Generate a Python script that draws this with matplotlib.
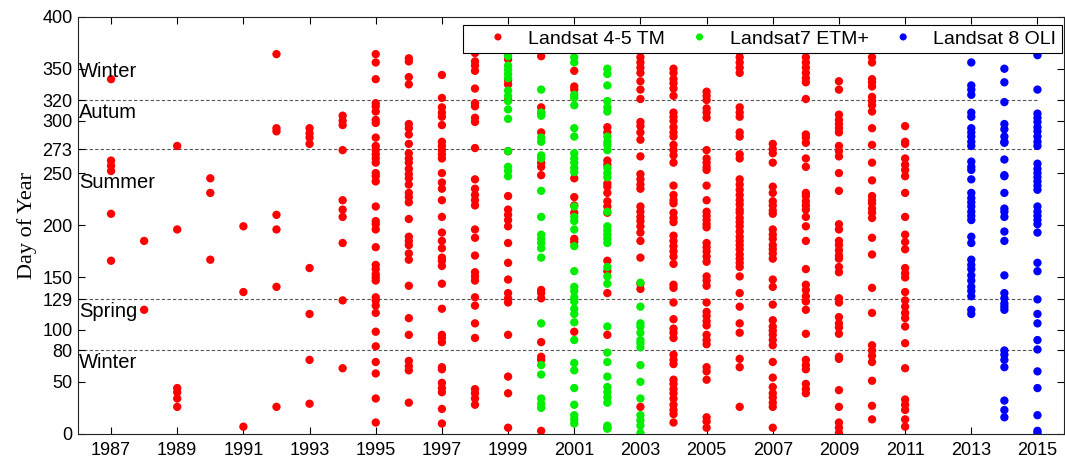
import numpy as np
import matplotlib
matplotlib.use("Agg")
import matplotlib.pyplot as plt

# day-of-year of each scene, per sensor and year
tm_doy = {
    1987: [340, 262, 257, 252, 211, 166],
    1988: [185, 119],
    1989: [276, 196, 44, 40, 34, 26],
    1990: [245, 231, 167],
    1991: [199, 136, 7],
    1992: [364, 293, 290, 210, 196, 141, 26],
    1993: [293, 288, 284, 278, 159, 115, 71, 29],
    1994: [305, 300, 296, 272, 224, 215, 208, 183, 128, 63],
    1995: [364, 356, 340, 317, 314, 309, 301, 298, 284, 276, 272, 268, 264, 260,
           250, 247, 242, 218, 204, 201, 196, 179, 162, 158, 153, 150, 147, 131,
           128, 123, 116, 98, 84, 69, 58, 34, 11],
    1996: [360, 357, 342, 335, 297, 293, 287, 278, 269, 264, 260, 254, 249, 245,
           239, 231, 227, 222, 206, 189, 185, 181, 173, 167, 142, 111, 95, 70, 65,
           61, 30],
    1997: [344, 322, 313, 308, 304, 296, 280, 276, 272, 268, 264, 250, 241, 235,
           224, 208, 193, 185, 178, 169, 166, 161, 144, 120, 95, 92, 88, 64, 62,
           49, 44, 40, 24, 10],
    1998: [372, 365, 357, 353, 348, 331, 317, 314, 303, 299, 274, 244, 235, 229,
           224, 219, 196, 188, 171, 155, 151, 147, 131, 123, 106, 92, 43, 39, 34, 28],
    1999: [366, 359, 339, 335, 320, 271, 228, 215, 210, 205, 199, 183, 164, 148,
           135, 130, 126, 95, 55, 39, 6],
    2000: [362, 313, 308, 289, 260, 256, 248, 138, 135, 130, 88, 74, 71, 3],
    2001: [370, 348, 333, 330, 245, 227, 219, 212, 187, 184, 98],
    2002: [294, 289, 262, 258, 240, 237, 231, 223, 218, 212, 166, 156, 135, 95, 6],
    2003: [385, 372, 361, 356, 351, 346, 338, 330, 321, 299, 295, 289, 282,
           266, 249, 244, 239, 235, 218, 213, 208, 204, 199, 193, 185, 169, 144,
           139, 26],
    2004: [350, 346, 340, 336, 331, 324, 308, 304, 300, 294, 289, 285, 277, 272,
           267, 260, 238, 229, 224, 221, 212, 207, 203, 190, 185, 180, 175, 170,
           163, 143, 140, 126, 110, 101, 97, 92, 76, 71, 67, 52, 48, 43, 39, 34,
           28, 23, 19, 11],
    2005: [328, 324, 320, 312, 308, 303, 272, 264, 260, 256, 253, 238, 224, 213,
           209, 205, 201, 198, 183, 179, 175, 170, 165, 151, 147, 142, 126, 117,
           113, 108, 104, 95, 90, 86, 64, 60, 52, 16, 12, 6],
    2006: [372, 366, 361, 356, 351, 346, 313, 308, 304, 289, 285, 268, 264, 244,
           239, 234, 229, 224, 220, 215, 212, 207, 203, 199, 194, 189, 185, 181,
           177, 172, 168, 164, 160, 151, 135, 122, 106, 97, 72, 64, 26],
    2007: [278, 273, 269, 260, 237, 231, 223, 219, 214, 211, 196, 191, 187, 181,
           177, 173, 168, 148, 141, 124, 109, 103, 99, 95, 90, 85, 69, 54, 45, 39,
           35, 30, 26, 6],
    2008: [380, 370, 361, 356, 351, 346, 341, 337, 321, 287, 284, 279, 264, 256,
           231, 228, 223, 219, 215, 208, 199, 185, 158, 143, 138, 132, 127, 119,
           96, 71, 66, 62, 48, 43, 39],
    2009: [338, 330, 306, 301, 297, 293, 289, 276, 271, 266, 250, 233, 201, 196,
           185, 181, 176, 171, 168, 160, 155, 130, 126, 112, 106, 102, 96, 74, 72,
           42, 26, 11, 6, 1],
    2010: [375, 361, 356, 340, 337, 333, 323, 319, 315, 309, 293, 277, 260, 243,
           228, 224, 221, 216, 212, 207, 188, 172, 140, 116, 85, 80, 75, 69, 51,
           27, 14],
    2011: [295, 280, 278, 264, 258, 253, 247, 231, 208, 191, 184, 177, 159, 154,
           150, 136, 128, 122, 116, 111, 103, 87, 63, 33, 28, 23, 14, 7],
}

etm_doy = {
    1999: [372, 362, 353, 349, 345, 341, 329, 324, 319, 311, 302, 271, 256, 252, 247],
    2000: [330, 308, 305, 284, 280, 267, 264, 233, 208, 191, 187, 183, 178, 169,
           106, 66, 57, 34, 29, 25],
    2001: [375, 361, 356, 325, 322, 315, 293, 285, 269, 264, 260, 255, 251, 218,
           208, 204, 196, 180, 156, 141, 137, 131, 127, 120, 115, 107, 90, 68, 61,
           44, 28, 18, 14, 10],
    2002: [350, 345, 334, 319, 313, 309, 285, 280, 277, 272, 255, 250, 246, 213,
           199, 195, 191, 187, 183, 160, 151, 144, 103, 78, 69, 55, 45, 40, 35, 30,
           8, 5],
    2003: [145, 122, 106, 103, 97, 90, 87, 83, 66, 50, 34, 18, 13, 8, 1],
}

oli_doy = {
    2013: [356, 334, 330, 325, 308, 304, 293, 289, 285, 280, 276, 261, 256, 253,
           244, 231, 226, 222, 218, 213, 209, 205, 189, 183, 167, 162, 158, 152,
           147, 141, 137, 132, 119, 115],
    2014: [350, 337, 318, 297, 292, 285, 280, 279, 263, 248, 247, 231, 216, 213,
           208, 194, 185, 152, 135, 130, 125, 122, 119, 80, 76, 71, 64, 32, 23, 16],
    2015: [372, 363, 330, 307, 303, 299, 294, 290, 285, 280, 276, 259, 254, 250,
           246, 242, 238, 234, 218, 213, 209, 205, 201, 193, 164, 156, 129, 115,
           106, 90, 81, 60, 44, 18, 3, 1],
}

season_bounds = [80, 129, 273, 320]
season_names = ["Winter", "Autum", "Summer", "Spring", "Winter"]
season_label_y = [342, 303, 236, 112, 63]
ytick_vals = [0, 50, 80, 100, 129, 150, 200, 250, 273, 300, 320, 350, 400]
xtick_vals = list(range(1987, 2016, 2))


def flatten(d):
    xs, ys = [], []
    for yr, days in d.items():
        xs += [yr] * len(days)
        ys += days
    return np.array(xs), np.array(ys)


plt.rcParams['font.family'] = 'Liberation Sans'
fig = plt.figure(figsize=(10.65, 4.61), dpi=100)
ax = fig.add_axes([0.0732, 0.0586, 0.9258, 0.9055])

for d, col, lab in [(tm_doy, '#ff0000', 'Landsat 4-5 TM'),
                    (etm_doy, '#00ee00', 'Landsat7 ETM+'),
                    (oli_doy, '#0000ff', 'Landsat 8 OLI')]:
    x, y = flatten(d)
    ax.scatter(x, y, s=36, c=col, edgecolors='none', label=lab, zorder=3)

# season boundaries
for b in season_bounds:
    ax.plot([1986, 2015], [b, b], ls=(0, (3, 2)), color='#555555', lw=0.8, zorder=1)

for name, yy in zip(season_names, season_label_y):
    ax.text(1986.03, yy, name, fontsize=14.5, va='baseline', ha='left')

ax.set_xlim(1986, 2015.8)
ax.set_ylim(0, 400)
ax.set_xticks(xtick_vals)
ax.set_yticks(ytick_vals)
ax.tick_params(direction='in', top=True, right=True, length=5, width=0.8,
               labelsize=13, colors='black')
ax.tick_params(axis='x', pad=6)
ax.tick_params(axis='y', pad=4)
for s in ax.spines.values():
    s.set_linewidth(0.8)
    s.set_color('#222222')

ax.set_ylabel('Day of Year', family='Liberation Serif', fontsize=16, labelpad=4)

leg = ax.legend(loc='upper right', bbox_to_anchor=(0.9977, 0.980), ncol=3,
                frameon=True, fancybox=False, borderaxespad=0,
                handlelength=3.07, handletextpad=0.02, columnspacing=0.24,
                borderpad=0.27, scatterpoints=1, scatteryoffsets=[0.5],
                markerscale=0.85, prop={'family': 'Liberation Sans', 'size': 14})
leg.get_frame().set_edgecolor('black')
leg.get_frame().set_linewidth(0.8)
leg.get_frame().set_alpha(1)
leg.set_zorder(5)

fig.savefig('out.png', dpi=100)
